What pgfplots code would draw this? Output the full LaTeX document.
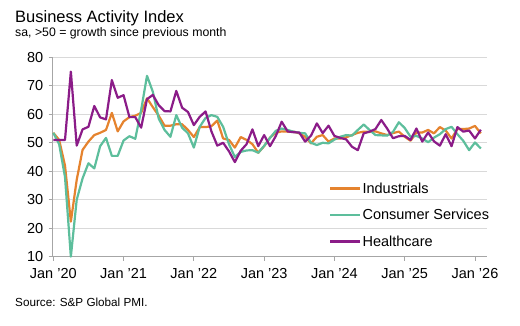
\documentclass[border=0pt]{standalone}
\usepackage{pgfplots}
\pgfplotsset{compat=1.18}
\usepackage{fontspec}
\setmainfont{Liberation Sans}
\definecolor{indc}{HTML}{E5832E}
\definecolor{conc}{HTML}{5DBE9C}
\definecolor{hlth}{HTML}{8B1C88}
\definecolor{gridc}{HTML}{D9D9D9}
\definecolor{axc}{HTML}{A6A6A6}
\begin{document}
\begin{tikzpicture}
\path[use as bounding box] (-52.7pt,-68.3pt) rectangle (467.3pt,256.7pt);
\begin{axis}[
  at={(0pt,0pt)}, anchor=south west,
  scale only axis, width=434pt, height=199.4pt,
  xmin=-0.1, xmax=74, ymin=10, ymax=80,
  xtick={0,12,24,36,48,60,72},
  xticklabels={Jan '20,Jan '21,Jan '22,Jan '23,Jan '24,Jan '25,Jan '26},
  ytick={10,20,...,80},
  ymajorgrids, grid style={gridc, line width=1pt},
  separate axis lines,
  axis x line*=bottom, axis y line*=left,
  axis line style={axc, line width=0.9pt, -},
  tick style={axc, line width=0.9pt},
  tick align=outside, major tick length=4pt,
  /pgf/number format/assume math mode=true,
  tick label style={font=\fontsize{14.5}{17}\selectfont, text=black},
  yticklabel style={xshift=-2pt},
  xticklabel style={yshift=-4.5pt},
  clip=false,
  legend style={draw=none, fill=none, at={(0.637,0.378)}, anchor=north west,
    font=\fontsize{14.5}{17}\selectfont, row sep=12.5pt, column sep=0pt,
    inner sep=0pt, nodes={inner sep=1pt}},
  legend cell align=left,
  legend image code/.code={\draw[#1] (0pt,0pt) -- (30pt,0pt);},
  every axis plot/.append style={line width=2.2pt, line join=round, no markers},
]
\addplot[indc] table {
0 53.5
1 51
2 42
3 22.3
4 37
5 47.5
6 50.4
7 52.7
8 53.5
9 54.5
10 60.5
11 54
12 57.5
13 59
14 59.5
15 60.5
16 65.6
17 62.5
18 59.5
19 56
20 56
21 56.5
22 56.5
23 54.5
24 52
25 55.5
26 55.5
27 55.8
28 57.8
29 51.5
30 51
31 48.3
32 52
33 51
34 49.5
35 46.5
36 48.8
37 51.8
38 53.5
39 54
40 53.9
41 53.9
42 53.3
43 52.1
44 49.8
45 52.1
46 52.7
47 50.4
48 51.5
49 51.5
50 51.9
51 52.7
52 53.5
53 53.9
54 53.8
55 54
56 53.3
57 52.7
58 53.4
59 53.9
60 52.1
61 50.7
62 53.6
63 53.6
64 54.5
65 53.3
66 55.5
67 54.3
68 51.5
69 54.8
70 54.8
71 55
72 55.9
73 53.3
};
\addlegendentry{Industrials}
\addplot[conc] table {
0 53.5
1 49.5
2 38
3 10
4 30
5 37.5
6 42.8
7 41
8 48.8
9 51.7
10 45.4
11 45.4
12 50.8
13 52.3
14 51.4
15 61.5
16 73.5
17 67.9
18 58.5
19 54.5
20 52.1
21 59.7
22 55.3
23 53.3
24 48.3
25 55.6
26 58.7
27 59.7
28 59.1
29 55.6
30 49.5
31 45
32 46.8
33 47.3
34 47.4
35 46.5
36 48.9
37 51.7
38 54.2
39 55
40 54.5
41 53.9
42 53.5
43 53.3
44 50
45 49.2
46 50
47 49.8
48 51.1
49 52.1
50 52.7
51 52.5
52 54.5
53 56.4
54 54.5
55 52.7
56 52.6
57 52.5
58 53.8
59 57.2
60 55.2
61 52.1
62 52.4
63 51.5
64 50.2
65 51.8
66 53
67 54.8
68 55.6
69 53
70 50.7
71 47.4
72 50.1
73 48
};
\addlegendentry{Consumer Services}
\addplot[hlth] table {
0 51
1 51
2 51
3 75
4 49
5 54.7
6 55.6
7 62.9
8 58.9
9 58.2
10 72
11 65.8
12 66.7
13 59
14 59
15 55.3
16 65.3
17 66.8
18 63.2
19 61.1
20 61
21 68.2
22 62.3
23 60.8
24 56.2
25 59.1
26 61
27 54
28 49
29 50
30 47
31 43.2
32 47.2
33 49.5
34 54.7
35 48.8
36 52.7
37 48.8
38 52.4
39 57.4
40 54
41 53.7
42 53.6
43 50.4
44 52.5
45 56.8
46 53.4
47 56
48 52.4
49 51.7
50 51.2
51 48.6
52 47.4
53 53.3
54 53.9
55 54.8
56 58
57 55
58 51.6
59 52.3
60 52.4
61 51
62 55
63 50.4
64 53.6
65 50.5
66 49
67 53
68 48.8
69 55.5
70 53.9
71 54.3
72 51.5
73 54.6
};
\addlegendentry{Healthcare}
\end{axis}
\node[anchor=base west, inner sep=0pt, font=\fontsize{16.5}{20}\selectfont] at (-37.7pt,234pt) {Business Activity Index};
\node[anchor=base west, inner sep=0pt, font=\fontsize{12.3}{15}\selectfont] at (-37.7pt,220pt) {sa, >50 = growth since previous month};
\node[anchor=base west, inner sep=0pt, font=\fontsize{11.7}{14}\selectfont] at (-37.7pt,-50pt) {Source: S\&P Global PMI.};
\end{tikzpicture}
\end{document}
